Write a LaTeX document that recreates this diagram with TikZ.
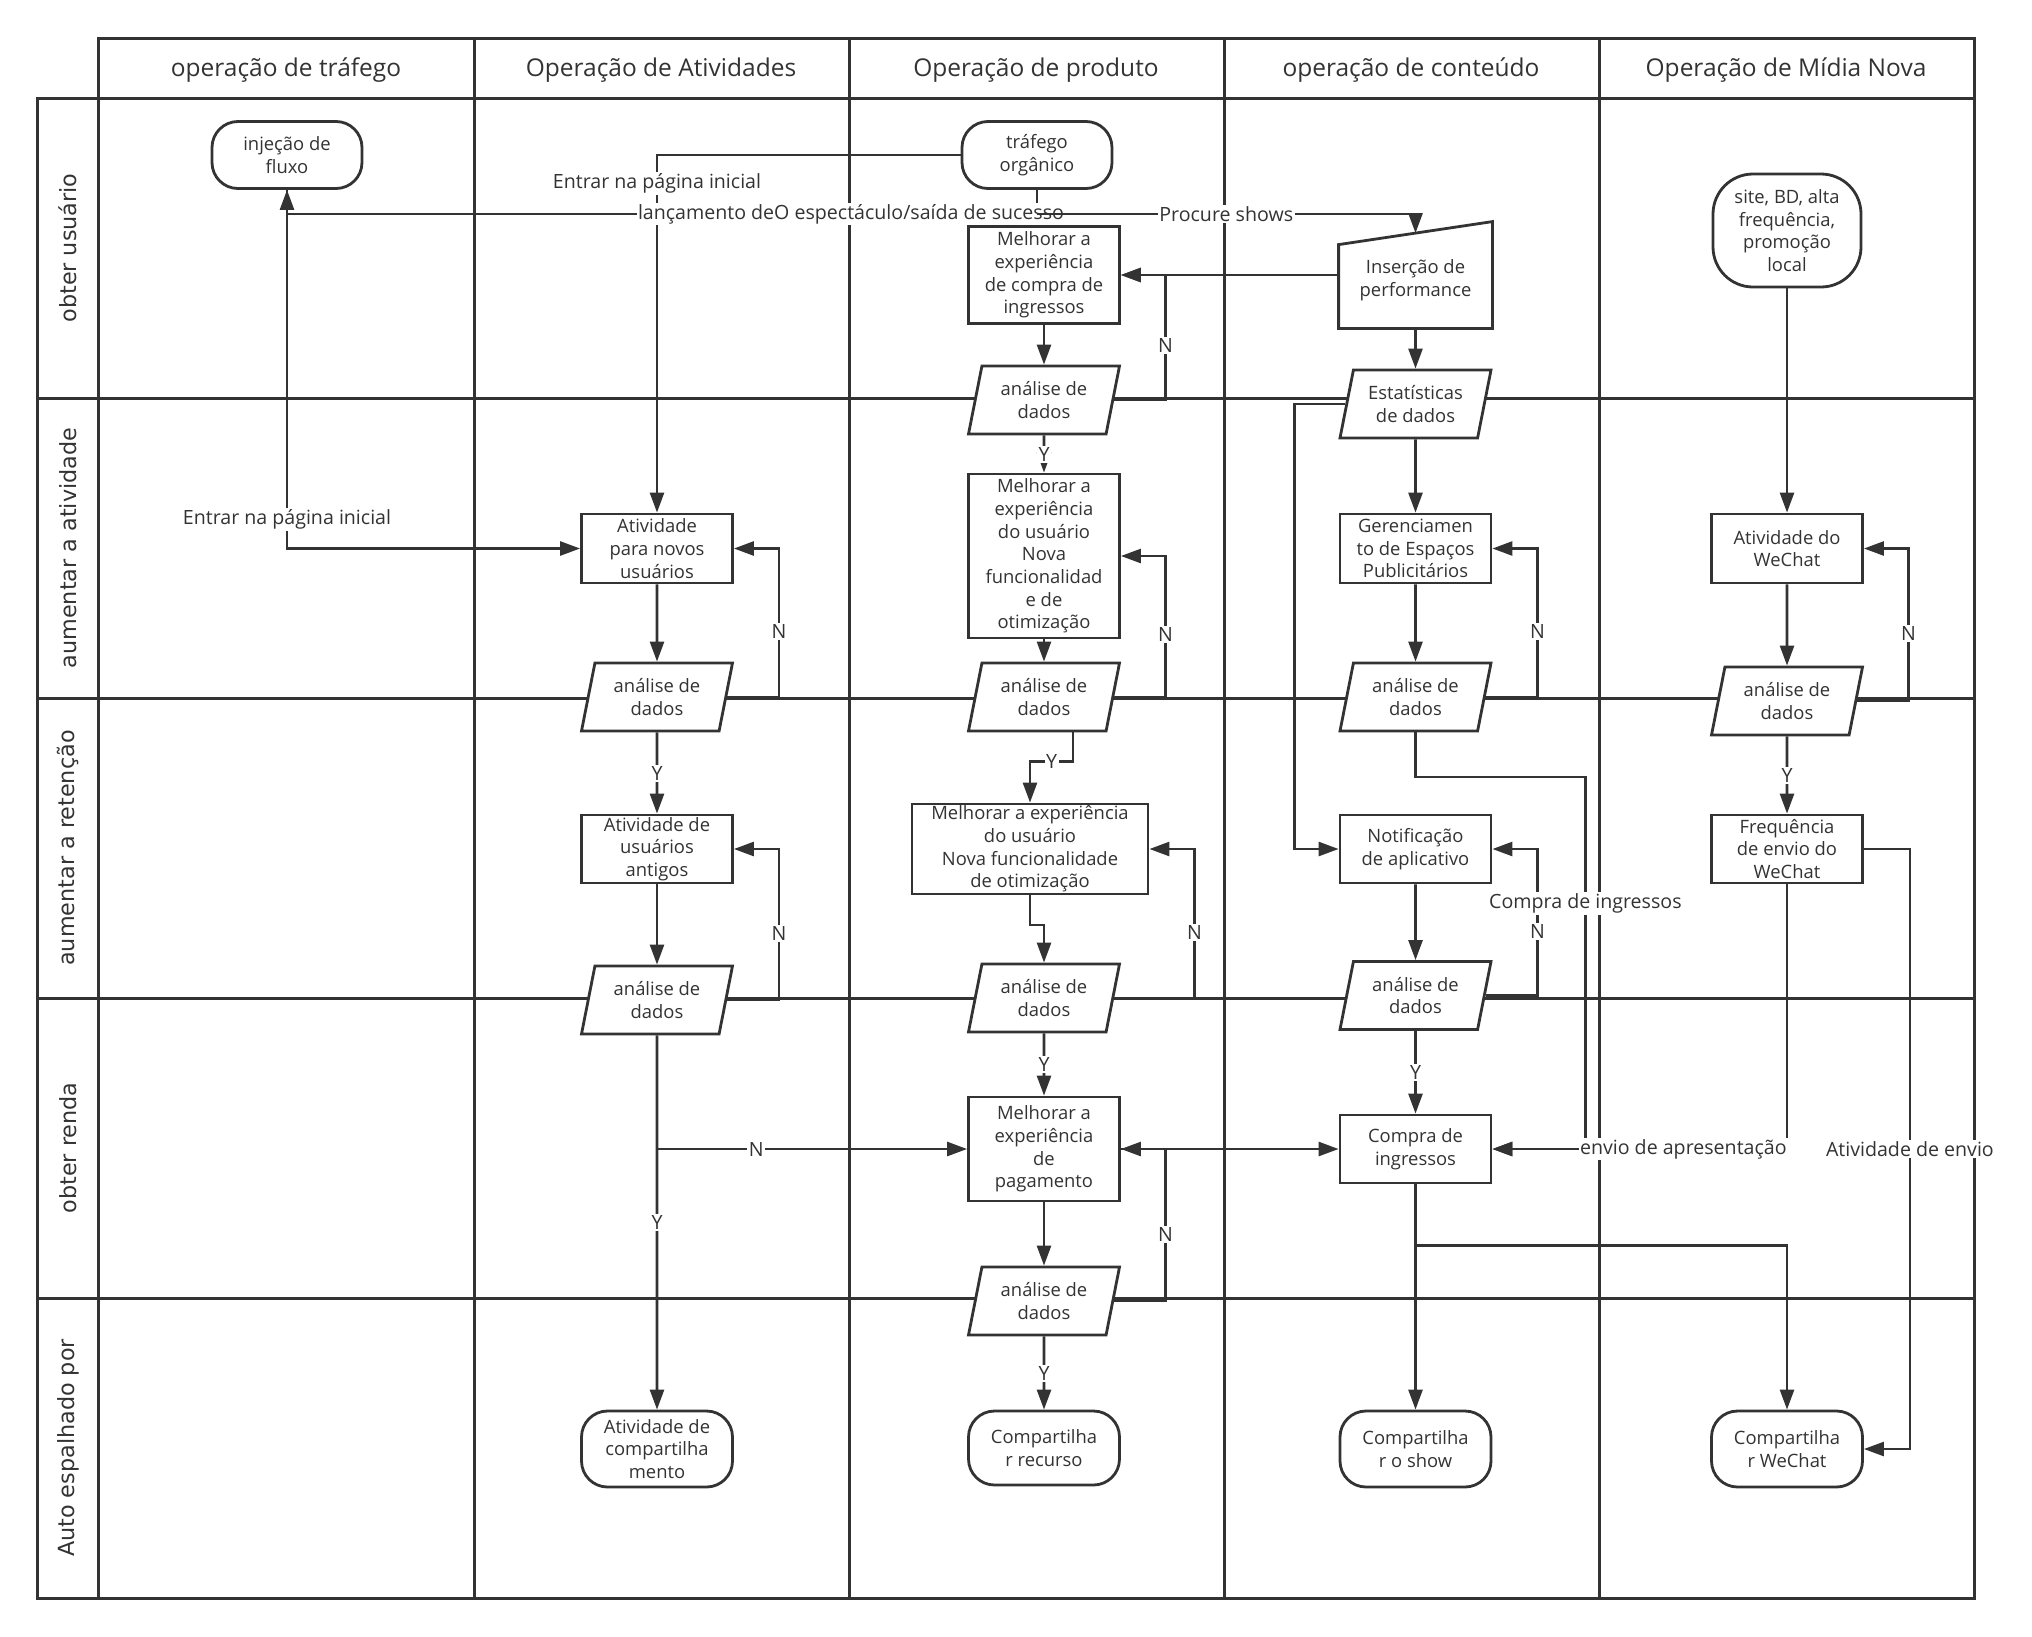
\documentclass[tikz,border=0pt]{standalone}
\usepackage{fontspec}
\setmainfont{Open Sans}
\newfontfamily\lanefont{DejaVu Sans}
\usetikzlibrary{arrows.meta,positioning,shapes.geometric}
\definecolor{ink}{HTML}{333333}

\begin{document}
\begin{tikzpicture}[x=1pt,y=-1pt,
  lane/.style={draw=ink, line width=3pt},
  head/.style={text=ink, font=\fontsize{24.5}{29}\selectfont},
  rowlabel/.style={text=ink, rotate=90, font=\lanefont\fontsize{22.3}{26}\selectfont},
  box/.style={draw=ink, line width=2.8pt, fill=white, text=ink, align=center, inner sep=1pt, minimum width=151pt, font=\fontsize{18.4}{22.7}\selectfont},
  proc/.style={box, rectangle},
  term/.style={box, rectangle, rounded corners=26pt},
  data/.style={box, trapezium, trapezium left angle=71, trapezium right angle=109, trapezium stretches body, minimum height=68pt},
  flow/.style={draw=ink, line width=2.6pt, -{Triangle[length=20pt,width=14pt]}},
  lbl/.style={fill=white, text=ink, inner sep=1.5pt, font=\fontsize{19.6}{23}\selectfont}
]
\useasboundingbox (0,0) rectangle (2032,1636);

\draw[lane] (98.5,38) rectangle (1974,1598);
\draw[lane] (37.6,98) rectangle (98.5,1598);
\foreach \x in {474,849,1224,1599} \draw[lane] (\x,38) -- (\x,1598);
\draw[lane] (98.5,98) -- (1974,98);
\foreach \y in {398,698,998,1298} \draw[lane] (37.6,\y) -- (1974,\y);

\foreach \t [count=\i] in {operação de tráfego, Operação de Atividades, Operação de produto, operação de conteúdo, Operação de Mídia Nova}
  \node[head] (head\i) at ({286+375*(\i-1)},70) {\t};
\foreach \t [count=\i] in {obter usuário, aumentar a atividade, aumentar a retenção, obter renda, Auto espalhado por}
  \node[rowlabel] (row\i) at (68,{248+300*(\i-1)}) {\t};

\node[term, minimum width=150pt, minimum height=67pt] (inj) at (287,155) {injeção de\\fluxo};
\node[term, minimum width=150pt, minimum height=67pt] (org) at (1037,155) {tráfego\\orgânico};
\node[term, minimum width=148pt, minimum height=113pt, rounded corners=40pt] (promo) at (1787,230.5) {site, BD, alta\\frequência,\\promoção\\local};
\node[proc, minimum height=97pt] (buy) at (1044,275) {Melhorar a\\experiência\\de compra de\\ingressos};
\node[proc, draw=none, fill=none, minimum height=104pt] (ins) at (1415.5,275) {};
\draw[draw=ink, line width=2.8pt, fill=white] (ins.south west) -- (ins.south east) -- (ins.north east) -- ([yshift=-23pt]ins.north west) -- cycle;
\node[text=ink, align=center, font=\fontsize{18.4}{22.7}\selectfont] (instext) at ([yshift=-5pt]ins.center) {Inserção de\\performance};
\node[data] (stat) at (1415.5,404) {Estatísticas\\de dados};
\node[proc, minimum height=69pt] (newact) at (657,548.5) {Atividade\\para novos\\usuários};
\node[proc, minimum height=164pt] (ux1) at (1044,556) {Melhorar a\\experiência\\do usuário\\Nova\\funcionalidad\\e de\\otimização};
\node[proc, minimum height=69pt] (ads) at (1415.5,548.5) {Gerenciamen\\to de Espaços\\Publicitários};
\node[proc, minimum height=69pt] (wx) at (1787,548.5) {Atividade do\\WeChat};
\node[proc, minimum height=68pt] (oldact) at (657,849) {Atividade de\\usuários\\antigos};
\node[proc, minimum width=236pt, minimum height=90pt] (ux2) at (1030,849) {Melhorar a experiência\\do usuário\\Nova funcionalidade\\de otimização};
\node[proc, minimum height=68pt] (notif) at (1415.5,849) {Notificação\\de aplicativo};
\node[proc, minimum height=68pt] (freq) at (1787,849) {Frequência\\de envio do\\WeChat};
\node[proc, minimum height=104pt] (pay) at (1044,1149) {Melhorar a\\experiência\\de\\pagamento};
\node[proc, minimum height=68pt] (ticket) at (1415.5,1149) {Compra de\\ingressos};
\node[term, minimum height=76pt] (share1) at (657,1449) {Atividade de\\compartilha\\mento};
\node[term, minimum height=74pt] (share2) at (1044,1448) {Compartilha\\r recurso};
\node[term, minimum height=76pt] (share3) at (1415.5,1449) {Compartilha\\r o show};
\node[term, minimum height=76pt] (share4) at (1787,1449) {Compartilha\\r WeChat};
\foreach \n/\x/\y in {da1/657/697, da2/657/1000, da3/1044/400, da4/1044/697, da5/1044/998, da6/1044/1301, da7/1415.5/697, da8/1415.5/995.5, da9/1787/701}
  \node[data] (\n) at (\x,\y) {análise de\\dados};

\coordinate (split) at ([yshift=-24pt]org.south);
\coordinate (instop) at ([yshift=-11.5pt]ins.north);
\draw[flow] (org.west) -| node[lbl, pos=0.54] {Entrar na página inicial} (newact.north);
\draw[flow] (org.south) -- (split) -| node[lbl, pos=0.124] {lançamento deO espectáculo/saída de sucesso} (inj.south);
\draw[flow] (split) -| node[lbl, pos=0.25] {Procure shows} (instop);
\draw[flow] (inj.south) |- node[lbl, pos=0.46] {Entrar na página inicial} (newact.west);
\draw[flow] (ins.west) -- (buy.east);

\foreach \a/\b in {newact/da1, oldact/da2, buy/da3, ux1/da4, pay/da6, ins/stat, stat/ads, ads/da7, notif/da8, ticket/share3, promo/wx, wx/da9}
  \draw[flow] (\a) -- (\b);
\foreach \a/\b in {da1/oldact, da3/ux1, da5/pay, da6/share2, da8/ticket, da9/freq, da2/share1}
  \draw[flow] (\a) -- node[lbl] {Y} (\b);
\foreach \a/\b/\d in {da1/newact/45, da2/oldact/45, da3/buy/44.5, da4/ux1/44.5, da5/ux2/45, da6/pay/44.5, da7/ads/45, da8/notif/45, da9/wx/44.5}
  \draw[flow] (\a.right side) -| node[lbl, pos=0.72] {N} ([xshift=\d pt]\b.east) -- (\b.east);

\draw[flow] ([xshift=29pt]da4.south) |- node[lbl, pos=0.75] {Y} ([yshift=41pt]ux2.north) -- (ux2.north);
\draw[flow] (ux2.south) |- ([yshift=37.5pt]da5.north) -- (da5.north);
\draw[flow] (da2.south |- pay.west) -- node[lbl, pos=0.32] {N} (pay.west);
\draw[flow] (pay.east) -- (ticket.west);
\draw[flow] (stat.left side) -| ([xshift=-44pt]notif.west) -- (notif.west);
\draw[flow] (da7.south) -- ++(0,44.5) -| node[lbl, pos=0.67] {Compra de ingressos} ([xshift=93pt]ticket.east) -- (ticket.east);
\draw[flow] (freq.south) |- node[lbl, pos=0.676] {envio de apresentação} (ticket.east);
\draw[flow] (freq.east) -| node[lbl, pos=0.75] {Atividade de envio} ([xshift=46pt]share4.east) -- (share4.east);
\draw[flow] ([yshift=-61pt]ticket.south) -| (share4.north);
\end{tikzpicture}
\end{document}
